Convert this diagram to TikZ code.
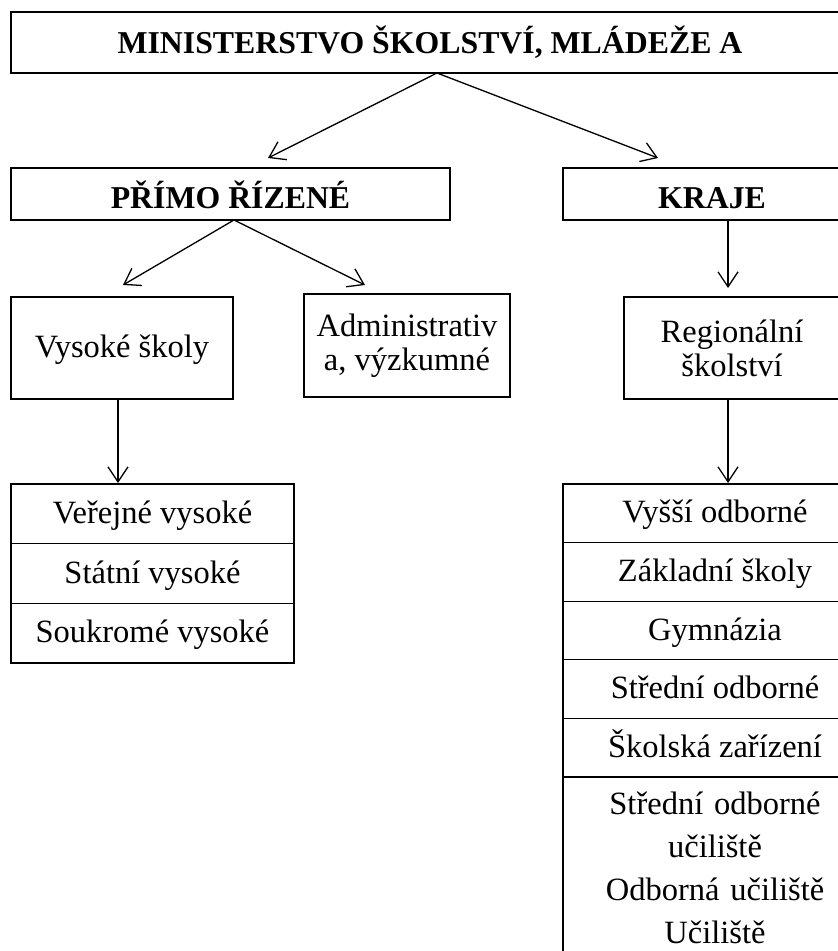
\documentclass[tikz,border=0pt]{standalone}
\usepackage{fontspec}
\setmainfont{Liberation Serif}
\usetikzlibrary{positioning,arrows.meta}

\tikzset{
	box/.style={draw, line width=1.3pt, inner sep=0pt, outer sep=0pt, align=center,
		font=\fontsize{32.5}{34}\selectfont},
	line/.style={box, text height=22pt, text depth=3pt},
	hbox/.style={box, font=\fontsize{31.8}{34}\selectfont\bfseries, text depth=0pt},
	lcell/.style={line, minimum width=283pt, minimum height=59.7pt},
	rcell/.style={line, minimum width=304pt, minimum height=58.6pt},
	arr/.style={line width=1.3pt, -{Straight Barb[length=15pt,width=20pt]}}
}

\begin{document}
\begin{tikzpicture}[x=1pt, y=-1pt]
	\useasboundingbox (0,0) rectangle (838,951);
	\clip (0,0) rectangle (838,951);

	\node[hbox, text height=21pt, minimum width=838pt, minimum height=61pt] (msmt) at (430, 42.5) {MINISTERSTVO ŠKOLSTVÍ, MLÁDEŽE A};

	\node[hbox, text height=28pt, minimum width=439pt, minimum height=52pt] (primo) at (230.5, 194) {PŘÍMO ŘÍZENÉ};
	\node[hbox, text height=28pt, minimum width=298pt, minimum height=52pt] (kraje) at (712, 194) {KRAJE};

	\node[line, minimum width=222pt, minimum height=102pt] (vs) at (122, 348) {Vysoké školy};
	\node[box, minimum width=206pt, minimum height=103pt] (admin) at (407, 345.5) {Administrativ\\a, výzkumné};
	\node[box, minimum width=216pt, minimum height=102pt] (reg) at (732, 348) {Regionální\\školství};

	% left stack
	\node[lcell] (verejne) at (152.5, 513.85) {Veřejné vysoké};
	\node[lcell, below=0pt of verejne] (statni) {Státní vysoké};
	\node[lcell, below=0pt of statni] (soukrome) {Soukromé vysoké};

	% right stack
	\node[rcell] (vyssi) at (715, 513.3) {Vyšší odborné};
	\node[rcell, below=0pt of vyssi] (zakladni) {Základní školy};
	\node[rcell, below=0pt of zakladni] (gymnazia) {Gymnázia};
	\node[rcell, below=0pt of gymnazia] (stredni) {Střední odborné};
	\node[rcell, below=0pt of stredni] (skolska) {Školská zařízení};
	\node[box, minimum width=304pt, text width=300pt, inner ysep=15pt, below=0pt of skolska,
		font=\fontsize{32.5}{43}\selectfont] (ucil) {Střední odborné\\učiliště\\Odborná učiliště\\Učiliště};

	% Arrows
	\draw[arr] ([xshift=7pt]msmt.south) -- ([xshift=37.5pt,yshift=10pt]primo.north);
	\draw[arr] ([xshift=7pt]msmt.south) -- ([xshift=-54pt,yshift=10pt]kraje.north);
	\draw[arr] ([xshift=3.5pt]primo.south) -- ([xshift=1pt,yshift=12pt]vs.north);
	\draw[arr] ([xshift=3.5pt]primo.south) -- ([xshift=-42pt,yshift=9pt]admin.north);
	\draw[arr] ([xshift=16pt]kraje.south) -- ([xshift=-4pt,yshift=9pt]reg.north);
	\draw[arr] ([xshift=-4pt]vs.south) -- ([xshift=-34.5pt,yshift=1pt]verejne.north);
	\draw[arr] ([xshift=-4pt]reg.south) -- ([xshift=13pt,yshift=1pt]vyssi.north);
\end{tikzpicture}
\end{document}
